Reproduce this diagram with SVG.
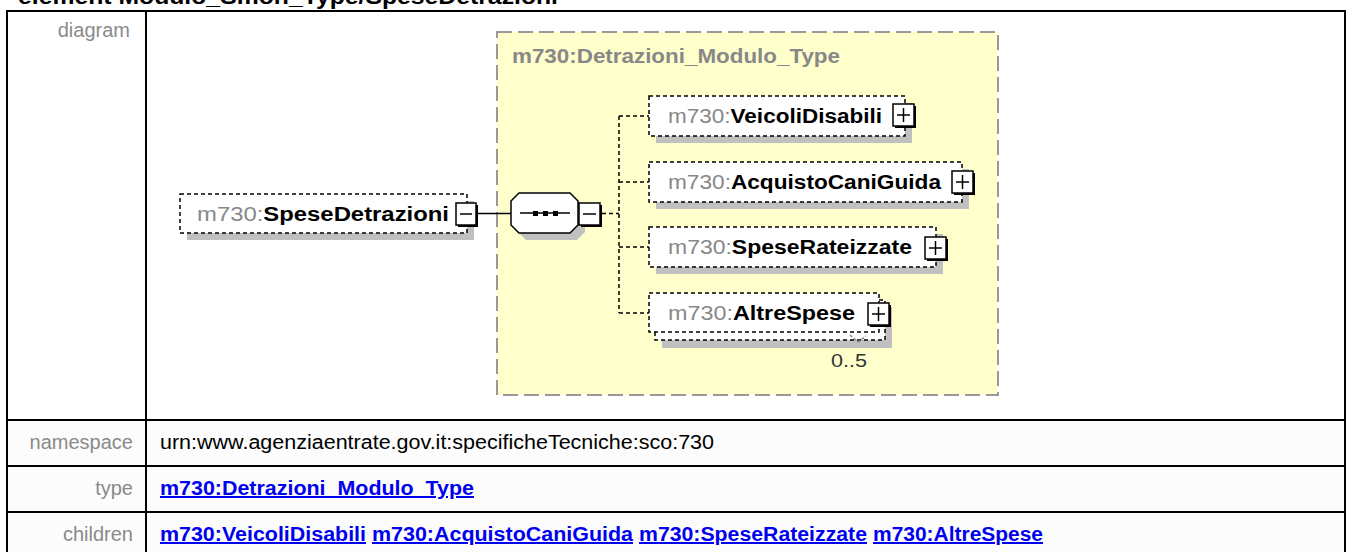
<svg xmlns="http://www.w3.org/2000/svg" width="1348" height="552" viewBox="0 0 1348 552">
<defs>
<style>
text{font-family:"Liberation Sans",Arial,sans-serif}
.title{font-size:22px;font-weight:bold;fill:#000}
.lbl{font-size:20px;fill:#8a8a8a}
.val{font-size:20px;fill:#000}
.lnk{font-size:20px;font-weight:bold;fill:#0000ee;text-decoration:underline}
.grid{stroke:#000;stroke-width:2;fill:none}
.ctype{fill:#ffffcc;stroke:#999;stroke-width:2;stroke-dasharray:15 6}
.ctlbl{font-size:21px;font-weight:bold;fill:#888}
.el{fill:#fff;stroke:#000;stroke-width:1.5;stroke-dasharray:4 3}
.sh{fill:#c0c0c0}
.pm{fill:#fff;stroke:#000;stroke-width:1.5}
.pmsh{fill:#000}
.sign{stroke:#000;stroke-width:1.5}
.et{font-size:20px}
.ns{fill:#888}
.nm{font-weight:bold;fill:#000}
.con{stroke:#000;stroke-width:1.5;fill:none;stroke-dasharray:4 3}
.solid{stroke:#000;stroke-width:1.5;fill:none}
.card{font-size:19px;fill:#333}
</style>
</defs>
<rect x="0" y="0" width="1348" height="552" fill="#fff"/>
<text class="title" x="18" y="4" textLength="540" lengthAdjust="spacingAndGlyphs">element Modulo_Smon_Type/SpeseDetrazioni</text>

<g id="table">
<rect x="7" y="11" width="1338" height="560" fill="#fff" stroke="#000" stroke-width="2"/>
<rect x="8" y="421" width="1336" height="140" fill="#fcfcfc"/>
<line class="grid" x1="146" y1="11" x2="146" y2="560"/>
<line class="grid" x1="7" y1="420" x2="1345" y2="420"/>
<line class="grid" x1="7" y1="466" x2="1345" y2="466"/>
<line class="grid" x1="7" y1="512" x2="1345" y2="512"/>
<text class="lbl" x="130" y="37" text-anchor="end">diagram</text>
<text class="lbl" x="133" y="449" text-anchor="end">namespace</text>
<text class="lbl" x="133" y="495" text-anchor="end">type</text>
<text class="lbl" x="133" y="541" text-anchor="end">children</text>
<text class="val" x="160" y="449" textLength="554" lengthAdjust="spacingAndGlyphs">urn:www.agenziaentrate.gov.it:specificheTecniche:sco:730</text>
<text class="lnk" x="160" y="495" textLength="314" lengthAdjust="spacingAndGlyphs">m730:Detrazioni_Modulo_Type</text>
<text class="lnk" x="160" y="541" textLength="206" lengthAdjust="spacingAndGlyphs">m730:VeicoliDisabili</text>
<text class="lnk" x="372" y="541" textLength="261" lengthAdjust="spacingAndGlyphs">m730:AcquistoCaniGuida</text>
<text class="lnk" x="639" y="541" textLength="228" lengthAdjust="spacingAndGlyphs">m730:SpeseRateizzate</text>
<text class="lnk" x="873" y="541" textLength="170" lengthAdjust="spacingAndGlyphs">m730:AltreSpese</text>
</g>

<g id="Detrazioni_Modulo_Type">
<rect class="ctype" x="497" y="32" width="501" height="363"/>
<text class="ctlbl" x="512" y="63" textLength="328" lengthAdjust="spacingAndGlyphs">m730:Detrazioni_Modulo_Type</text>
</g>

<g id="connectors">
<line class="solid" x1="477" y1="213.5" x2="511" y2="213.5"/>
<line class="con" x1="602" y1="213.5" x2="619" y2="213.5"/>
<line class="con" x1="619" y1="116" x2="619" y2="313"/>
<line class="con" x1="619" y1="116" x2="649" y2="116"/>
<line class="con" x1="619" y1="182" x2="649" y2="182"/>
<line class="con" x1="619" y1="247" x2="649" y2="247"/>
<line class="con" x1="619" y1="313" x2="649" y2="313"/>
</g>

<g id="SpeseDetrazioni">
<rect class="sh" x="187" y="201" width="287" height="39"/>
<rect class="el" x="180" y="194" width="287" height="39"/>
<text class="et" x="197" y="221" textLength="252" lengthAdjust="spacingAndGlyphs"><tspan class="ns">m730:</tspan><tspan class="nm">SpeseDetrazioni</tspan></text>
<rect class="pmsh" x="458" y="205" width="20" height="22"/>
<rect class="pm" x="456" y="203" width="20" height="22"/>
<line class="sign" x1="460" y1="214" x2="472" y2="214"/>
</g>

<g id="sequence">
<polygon class="sh" points="526,200 577,200 585,208 585,232 577,240 526,240 518,232 518,208"/>
<polygon fill="#fff" stroke="#000" stroke-width="1.5" points="519,193 570,193 578,201 578,225 570,233 519,233 511,225 511,201"/>
<line class="solid" x1="520" y1="213" x2="570" y2="213"/>
<rect x="533" y="211" width="5" height="5" fill="#000"/>
<rect x="543" y="211" width="5" height="5" fill="#000"/>
<rect x="553" y="211" width="5" height="5" fill="#000"/>
<rect class="pmsh" x="581" y="205" width="21" height="22"/>
<rect class="pm" x="579" y="203" width="21" height="22"/>
<line class="sign" x1="583" y1="214" x2="596" y2="214"/>
</g>

<g id="VeicoliDisabili">
<rect class="sh" x="656" y="103" width="256" height="40"/>
<rect class="el" x="649" y="96" width="256" height="40"/>
<text class="et" x="668" y="123" textLength="214" lengthAdjust="spacingAndGlyphs"><tspan class="ns">m730:</tspan><tspan class="nm">VeicoliDisabili</tspan></text>
<rect class="pmsh" x="895" y="106" width="21" height="22"/>
<rect class="pm" x="893" y="104" width="21" height="22"/>
<line class="sign" x1="897" y1="115" x2="910" y2="115"/>
<line class="sign" x1="903.5" y1="108" x2="903.5" y2="122"/>
</g>

<g id="AcquistoCaniGuida">
<rect class="sh" x="656" y="169" width="313" height="40"/>
<rect class="el" x="649" y="162" width="313" height="40"/>
<text class="et" x="668" y="189" textLength="273" lengthAdjust="spacingAndGlyphs"><tspan class="ns">m730:</tspan><tspan class="nm">AcquistoCaniGuida</tspan></text>
<rect class="pmsh" x="954" y="173" width="21" height="22"/>
<rect class="pm" x="952" y="171" width="21" height="22"/>
<line class="sign" x1="956" y1="182" x2="969" y2="182"/>
<line class="sign" x1="962.5" y1="175" x2="962.5" y2="189"/>
</g>

<g id="SpeseRateizzate">
<rect class="sh" x="656" y="234" width="287" height="40"/>
<rect class="el" x="649" y="227" width="287" height="40"/>
<text class="et" x="668" y="254" textLength="244" lengthAdjust="spacingAndGlyphs"><tspan class="ns">m730:</tspan><tspan class="nm">SpeseRateizzate</tspan></text>
<rect class="pmsh" x="927" y="239" width="21" height="22"/>
<rect class="pm" x="925" y="237" width="21" height="22"/>
<line class="sign" x1="929" y1="248" x2="942" y2="248"/>
<line class="sign" x1="935.5" y1="241" x2="935.5" y2="255"/>
</g>

<g id="AltreSpese">
<rect class="sh" x="662" y="307" width="230" height="41"/>
<rect class="el" x="655" y="300" width="230" height="40"/>
<rect class="el" x="649" y="293" width="230" height="39"/>
<text class="et" x="668" y="320" textLength="187" lengthAdjust="spacingAndGlyphs"><tspan class="ns">m730:</tspan><tspan class="nm">AltreSpese</tspan></text>
<rect class="pmsh" x="870" y="305" width="21" height="22"/>
<rect class="pm" x="868" y="303" width="21" height="22"/>
<line class="sign" x1="872" y1="314" x2="885" y2="314"/>
<line class="sign" x1="878.5" y1="307" x2="878.5" y2="321"/>
<polyline points="850,335 858,342 866,336" fill="none" stroke="#888" stroke-width="1.5" stroke-dasharray="3 2"/>
<text class="card" x="831" y="367" textLength="36" lengthAdjust="spacingAndGlyphs">0..5</text>
</g>
</svg>
